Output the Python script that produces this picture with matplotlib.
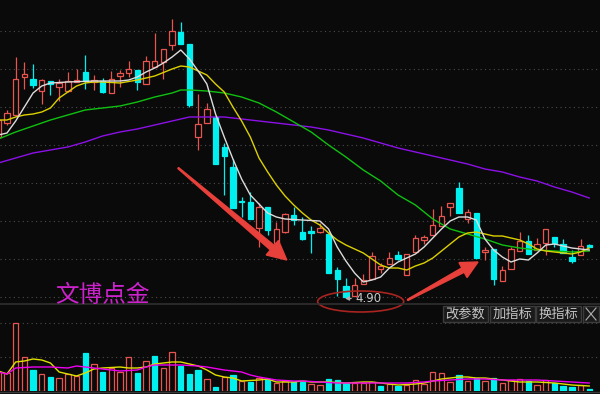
import numpy as np
import matplotlib.pyplot as plt
from matplotlib.patches import Ellipse, Polygon, Rectangle
from matplotlib.lines import Line2D
from matplotlib.transforms import IdentityTransform

plt.rcParams['font.family'] = ['Noto Sans CJK SC', 'DejaVu Sans']

# ---- daily candles (price, yuan) ----
opens = [6.50, 6.64, 6.72, 7.10, 7.08, 6.96, 7.06, 7.00, 6.96, 7.05,
         7.15, 7.05, 7.06, 6.94, 7.11, 7.14, 7.17, 7.03, 7.20, 7.25,
         7.42, 7.55, 7.43, 6.50, 6.64, 6.70, 6.40, 6.20, 5.86, 5.85,
         5.59, 5.80, 5.44, 5.55, 5.72, 5.55, 5.56, 5.55, 5.53, 5.17,
         5.01, 4.91, 5.03, 5.08, 5.18, 5.23, 5.32, 5.12, 5.35, 5.47,
         5.52, 5.61, 5.80, 5.99, 5.68, 5.74, 5.35, 5.38, 5.06, 5.18,
         5.36, 5.46, 5.37, 5.44, 5.50, 5.43, 5.30, 5.32, 5.42]
highs = [6.67, 6.77, 7.30, 7.25, 7.23, 7.08, 7.06, 7.08, 7.15, 7.18,
         7.32, 7.12, 7.09, 7.16, 7.17, 7.26, 7.17, 7.31, 7.54, 7.38,
         7.68, 7.65, 7.43, 6.93, 6.84, 6.70, 6.44, 6.28, 5.90, 5.95,
         5.84, 5.80, 5.65, 5.74, 5.80, 5.70, 5.61, 5.64, 5.55, 5.20,
         5.09, 5.09, 5.13, 5.35, 5.24, 5.35, 5.36, 5.33, 5.52, 5.52,
         5.78, 5.81, 5.84, 6.05, 5.78, 5.74, 5.40, 5.38, 5.21, 5.40,
         5.55, 5.52, 5.49, 5.58, 5.50, 5.48, 5.37, 5.48, 5.43]
lows = [6.50, 6.62, 6.72, 6.98, 6.99, 6.83, 6.92, 6.86, 6.95, 7.05,
        6.98, 6.97, 6.94, 6.94, 7.00, 7.10, 6.97, 7.03, 7.20, 7.08,
        7.37, 7.43, 6.80, 6.37, 6.64, 6.23, 5.92, 5.79, 5.70, 5.68,
        5.40, 5.52, 5.44, 5.54, 5.62, 5.47, 5.34, 5.54, 5.14, 4.91,
        4.90, 4.91, 5.03, 5.08, 5.14, 5.23, 5.27, 5.12, 5.35, 5.43,
        5.52, 5.61, 5.71, 5.74, 5.64, 5.29, 5.27, 5.02, 5.06, 5.18,
        5.36, 5.33, 5.37, 5.32, 5.40, 5.34, 5.24, 5.32, 5.40]
closes = [6.67, 6.74, 7.08, 7.13, 7.02, 7.07, 7.03, 7.04, 7.06, 7.07,
          7.06, 7.07, 6.95, 7.08, 7.14, 7.18, 7.05, 7.26, 7.26, 7.38,
          7.56, 7.43, 6.82, 6.63, 6.78, 6.23, 6.31, 5.79, 5.85, 5.68,
          5.80, 5.57, 5.58, 5.73, 5.67, 5.48, 5.54, 5.59, 5.14, 5.08,
          4.90, 5.02, 5.07, 5.31, 5.21, 5.29, 5.28, 5.33, 5.49, 5.50,
          5.62, 5.71, 5.84, 5.74, 5.75, 5.29, 5.37, 5.08, 5.17, 5.38,
          5.46, 5.33, 5.43, 5.58, 5.44, 5.34, 5.26, 5.41, 5.40]
volumes = [19000, 18000, 68000, 34000, 21000, 17000, 14000, 13000, 17000, 15000,
           38000, 27000, 19000, 23000, 19000, 34000, 18000, 30000, 35000, 23000,
           39000, 25000, 17000, 21000, 12000, 4000, 14000, 16000, 10000, 9000,
           13000, 12000, 8000, 10000, 9000, 9000, 7000, 6000, 12000, 11000,
           8000, 8000, 8000, 9000, 5000, 7000, 5000, 6000, 11000, 7000,
           19000, 18000, 9000, 16000, 10000, 13000, 10000, 13000, 8000, 11000,
           12000, 10000, 6000, 11000, 8000, 5000, 4000, 6000, 2000]

# ---- moving averages (day index, value) ----
ma5_day = [0, 1, 2, 3, 4, 5, 6, 8, 11, 14, 15, 16, 17, 18, 19, 20, 21, 22, 23, 24,
           25, 26, 27, 28, 29, 30, 31, 32, 33, 35, 37, 38, 39, 40, 41, 42, 43, 44,
           45, 46, 47, 48, 49, 50, 51, 52, 53, 54, 55, 56, 57, 58, 59, 60, 61, 62,
           63, 64, 65, 66, 67, 68]
ma5 = [6.52, 6.54, 6.66, 6.80, 6.94, 7.01, 7.04, 7.05, 7.06, 7.06, 7.07, 7.10,
       7.15, 7.19, 7.24, 7.30, 7.37, 7.28, 7.16, 7.03, 6.73, 6.50, 6.28, 6.08,
       5.92, 5.83, 5.74, 5.70, 5.68, 5.67, 5.66, 5.58, 5.40, 5.26, 5.14, 5.05,
       5.07, 5.10, 5.19, 5.25, 5.29, 5.33, 5.40, 5.49, 5.58, 5.66, 5.70, 5.70,
       5.67, 5.48, 5.37, 5.30, 5.25, 5.28, 5.27, 5.34, 5.42, 5.43, 5.41, 5.39,
       5.38, 5.37]
ma10_day = [0, 1, 2, 3, 4, 5, 6, 7, 8, 9, 10, 11, 12, 14, 16, 18, 20, 21, 22, 23,
            24, 25, 26, 27, 28, 29, 30, 31, 32, 33, 34, 35, 36, 37, 38, 39, 40, 41,
            42, 43, 44, 45, 46, 47, 48, 49, 50, 51, 52, 53, 54, 55, 56, 57, 58, 59,
            60, 61, 62, 63, 64, 65, 66, 67, 68]
ma10 = [6.67, 6.67, 6.70, 6.72, 6.73, 6.75, 6.79, 6.89, 6.95, 7.01, 7.04, 7.05,
        7.05, 7.04, 7.07, 7.11, 7.18, 7.21, 7.20, 7.16, 7.12, 7.03, 6.95, 6.80,
        6.66, 6.50, 6.29, 6.15, 6.02, 5.91, 5.82, 5.74, 5.67, 5.62, 5.54, 5.47,
        5.42, 5.38, 5.34, 5.28, 5.22, 5.19, 5.19, 5.17, 5.21, 5.24, 5.29, 5.36,
        5.43, 5.50, 5.54, 5.55, 5.53, 5.51, 5.51, 5.49, 5.47, 5.43, 5.38, 5.36,
        5.35, 5.34, 5.33, 5.35, 5.39]
ma30_day = [0, 2, 4, 6, 8, 10, 12, 14, 16, 18, 20, 21, 22, 24, 26, 28, 30, 32, 34,
            36, 38, 40, 42, 44, 46, 48, 50, 52, 54, 56, 58, 60, 62, 64, 66, 68]
ma30 = [6.48, 6.55, 6.61, 6.67, 6.72, 6.77, 6.79, 6.81, 6.85, 6.90, 6.94, 6.97,
        6.97, 6.96, 6.94, 6.90, 6.84, 6.75, 6.65, 6.55, 6.42, 6.30, 6.17, 6.06,
        5.92, 5.82, 5.68, 5.58, 5.53, 5.48, 5.42, 5.39, 5.37, 5.36, 5.35, 5.36]
ma60_day = [0, 2, 4, 6, 8, 10, 12, 14, 16, 18, 20, 22, 24, 26, 28, 30, 32, 34, 36,
            38, 40, 42, 44, 46, 48, 50, 52, 54, 56, 58, 60, 62, 64, 66, 68]
ma60 = [6.24, 6.29, 6.34, 6.37, 6.40, 6.45, 6.51, 6.55, 6.58, 6.62, 6.66, 6.70,
        6.70, 6.70, 6.68, 6.66, 6.64, 6.62, 6.60, 6.57, 6.53, 6.49, 6.44, 6.39,
        6.35, 6.31, 6.27, 6.23, 6.18, 6.15, 6.10, 6.06, 6.00, 5.95, 5.89]
vma5_day = [0, 1, 2, 3, 4, 5, 6, 7, 8, 9, 10, 11, 12, 14, 15, 16, 17, 18, 19, 20,
            21, 22, 23, 24, 25, 26, 27, 28, 30, 31, 32, 34, 35, 36, 38, 40, 42, 43,
            44, 46, 48, 49, 50, 51, 52, 53, 54, 55, 56, 57, 58, 60, 62, 64, 66, 68]
vma5 = [20000, 17000, 29000, 30000, 32000, 31000, 28000, 19000, 17000, 15000,
        18000, 22000, 23000, 24000, 23000, 23000, 24000, 27000, 28000, 29000,
        29000, 27000, 25000, 21000, 16000, 14000, 13000, 10000, 11000, 12000,
        9000, 9000, 10000, 9000, 9000, 8000, 9000, 9000, 8000, 6000,
        7000, 8000, 10000, 12000, 13000, 14000, 14000, 13000, 13000, 12000,
        11000, 9000, 9000, 8000, 6000, 5000]
vma10_day = [0, 1, 2, 4, 6, 8, 9, 10, 11, 12, 14, 16, 17, 18, 19, 21, 23, 24, 26,
             28, 29, 30, 32, 34, 35, 37, 39, 41, 43, 45, 47, 49, 50, 52, 54, 56,
             58, 60, 62, 64, 66, 68]
vma10 = [19000, 17000, 23000, 24000, 24000, 23000, 25000, 24000, 23000, 22000,
         20000, 21000, 24000, 26000, 26000, 26000, 25000, 24000, 21000, 19000,
         16000, 14000, 11000, 10000, 10000, 9000, 8000, 8000, 8000, 8000,
         8000, 9000, 10000, 11000, 12000, 12000, 11000, 11000, 11000, 10000,
         9000, 8000]

price_grid = [4.90, 5.28, 5.66, 6.04, 6.42, 6.80, 7.18, 7.56]
vol_grid = [34000, 68000]
buttons = ['改参数', '加指标', '换指标']

BG = '#0a0a0a'
RED = '#e85450'
CYAN = '#00f0f0'
GRID = '#4c4c4c'

W, H = 600, 394
fig = plt.figure(figsize=(W / 100, H / 100), dpi=100, facecolor=BG)
ax = fig.add_axes([0, 1 - 303 / H, 1, 303 / H])
axv = fig.add_axes([0, 3 / H, 1, 88 / H])
for a in (ax, axv):
    a.set_facecolor('none')
    a.set_axis_off()
    a.set_xlim(0.196, 69.24)
ax.set_ylim(4.84, 7.87)
axv.set_ylim(0, 88000)

o = np.array(opens); c = np.array(closes)
day = np.arange(len(o))
up = c >= o
col = np.where(up, RED, CYAN)
# volume bars are coloured by close against the previous close
vup = np.concatenate([[True], c[1:] > c[:-1]])
vcol = np.where(vup, RED, CYAN)

for g in price_grid:
    ax.axhline(g, color=GRID, lw=0.8, ls=(0, (1, 3)), zorder=0)
for g in vol_grid:
    axv.axhline(g, color=GRID, lw=0.8, ls=(0, (1, 3)), zorder=0)

# candles
ax.vlines(day, lows, highs, colors=col, lw=0.9, zorder=2)
ax.bar(day, np.maximum(np.abs(c - o), 0.006), bottom=np.minimum(o, c), width=0.62,
       color=np.where(up, BG, CYAN), edgecolor=col, linewidth=0.9, zorder=3)

ax.plot(ma60_day, ma60, color='#8c10e8', lw=1, zorder=4)
ax.plot(ma30_day, ma30, color='#10c010', lw=1, zorder=4)
ax.plot(ma10_day, ma10, color='#dcd000', lw=1, zorder=4)
ax.plot(ma5_day, ma5, color='#dcdcdc', lw=1, zorder=5)

# volume
axv.bar(day, volumes, width=0.62, color=np.where(vup, BG, CYAN), edgecolor=vcol,
        linewidth=0.9, zorder=2)
axv.plot(vma5_day, vma5, color='#e0e000', lw=1, zorder=3)
axv.plot(vma10_day, vma10, color='#f000f0', lw=1, zorder=3)

# panel separators
fig.add_artist(Line2D([0, 1], [1 - 304 / H] * 2, color='#303030', lw=1.2))
fig.add_artist(Line2D([0, 1], [1 - 392 / H] * 2, color='#3a3a3a', lw=1.0))


def tapered_arrow(a, start, end, shaft=6, head_w=19, head_l=19, color='#e8403a'):
    p0 = a.transData.transform(start)
    p1 = a.transData.transform(end)
    d = p1 - p0
    u = d / np.hypot(*d)
    n = np.array([-u[1], u[0]])
    hb = p1 - u * head_l
    pts = [p0 + n * 0.6, hb + n * shaft / 2, hb + n * head_w / 2, p1,
           hb - n * head_w / 2, hb - n * shaft / 2, p0 - n * 0.6]
    a.add_patch(Polygon(pts, closed=True, transform=IdentityTransform(),
                        color=color, clip_on=False, zorder=6))


tapered_arrow(ax, (20.7, 6.19), (33.2, 5.27))
tapered_arrow(ax, (47.1, 4.87), (55.2, 5.25), shaft=5, head_w=17, head_l=17)

ax.add_patch(Ellipse((41.7, 4.855), 9.9, 0.21, fill=False, edgecolor='#a82420',
                     lw=1.2, clip_on=False, zorder=6))
ax.annotate('4.90', xy=(39.9, 4.885), xytext=(41.1, 4.885), color='#c8c8c8',
            fontsize=8.5, va='center', ha='left', family='DejaVu Sans',
            arrowprops=dict(arrowstyle='-|>', color='#b0b0b0', lw=0.8,
                            mutation_scale=6, shrinkA=1, shrinkB=0),
            annotation_clip=False, zorder=7)

fig.text(55 / W, 1 - 295 / H, '文博点金', color='#cc22cc', fontsize=17,
         ha='left', va='center')

# toolbar buttons
for k, label in enumerate(buttons):
    x0 = 443 + k * 46.5
    fig.add_artist(Rectangle((x0 / W, 1 - 322 / H), 45 / W, 16 / H,
                             transform=fig.transFigure, fc='#1a1a1a', ec='#3c3c3c', lw=1))
    fig.text((x0 + 22.5) / W, 1 - 314 / H, label, color='#c4c4c4', fontsize=9.5,
             ha='center', va='center')
fig.add_artist(Rectangle((583 / W, 1 - 322 / H), 16 / W, 16 / H,
                         transform=fig.transFigure, fc='#1a1a1a', ec='#3c3c3c', lw=1))
fig.add_artist(Line2D([586 / W, 596 / W], [1 - 308 / H, 1 - 320 / H], color='#b0b0b0', lw=0.8))
fig.add_artist(Line2D([586 / W, 596 / W], [1 - 320 / H, 1 - 308 / H], color='#b0b0b0', lw=0.8))

fig.savefig('out.png', dpi=100, facecolor=BG)
